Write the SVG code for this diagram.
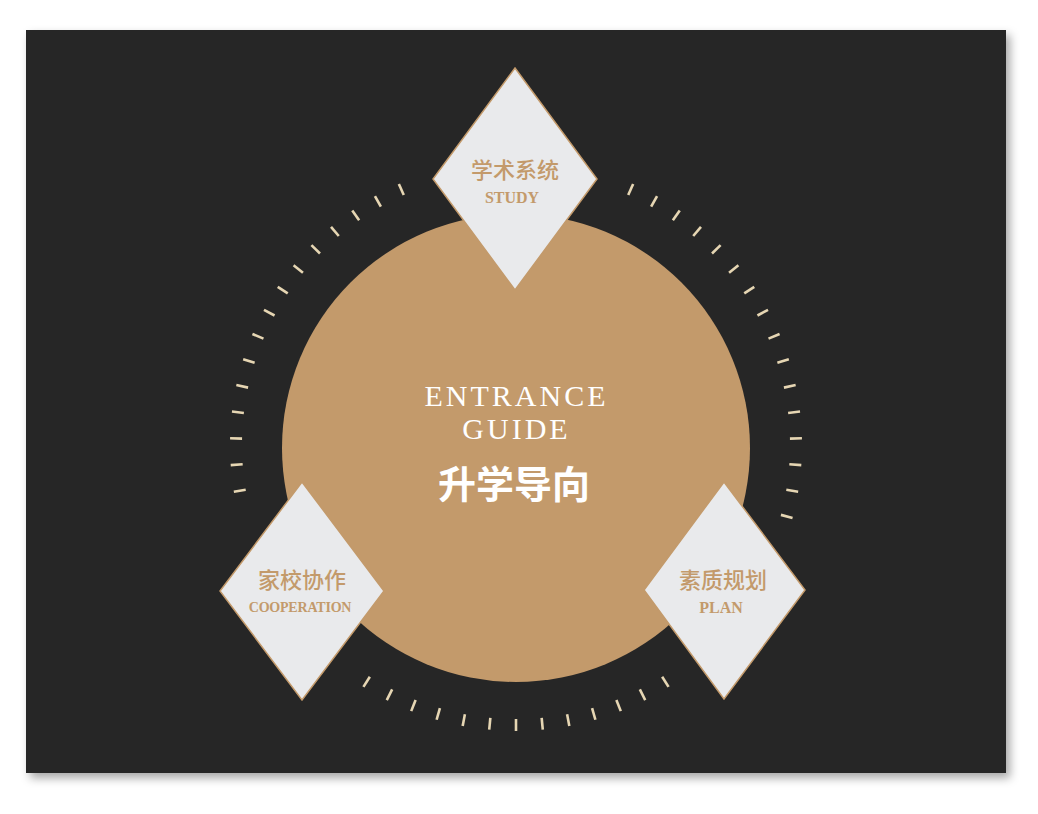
<svg xmlns="http://www.w3.org/2000/svg" xmlns:xlink="http://www.w3.org/1999/xlink" width="1038" height="814" viewBox="0 0 1038 814">
  <defs>
    <filter id="shadow" x="-5%" y="-5%" width="112%" height="115%">
      <feDropShadow dx="4" dy="5" stdDeviation="5" flood-color="#000" flood-opacity="0.35"/>
    </filter>
    <line id="tick" x1="516" y1="171" x2="516" y2="159" stroke="#E6D6B3" stroke-width="2.6"/>
  </defs>
  <style>
    .dia { fill: #E9EAEC; stroke: #C39A6B; stroke-width: 1.5; }
    .cn { font-family: "Noto Sans CJK SC", sans-serif; font-weight: 500; font-size: 22px; fill: #C39A6B; text-anchor: middle; }
    .en { font-family: "Liberation Serif", serif; font-weight: bold; fill: #C39A6B; text-anchor: middle; }
    .ct { font-family: "Liberation Serif", serif; font-size: 30px; fill: #FFFFFF; text-anchor: middle; letter-spacing: 3px; }
    .ccn { font-family: "Noto Sans CJK SC", sans-serif; font-weight: bold; font-size: 38px; fill: #FFFFFF; text-anchor: middle; }
  </style>
  <rect width="1038" height="814" fill="#FFFFFF"/>
  <rect x="26" y="30" width="980" height="743" fill="#262626" filter="url(#shadow)"/>

  <g id="ticks">
    <use xlink:href="#tick" transform="rotate(24.179 516 445)"/>
    <use xlink:href="#tick" transform="rotate(29.552 516 445)"/>
    <use xlink:href="#tick" transform="rotate(34.925 516 445)"/>
    <use xlink:href="#tick" transform="rotate(40.299 516 445)"/>
    <use xlink:href="#tick" transform="rotate(45.672 516 445)"/>
    <use xlink:href="#tick" transform="rotate(51.045 516 445)"/>
    <use xlink:href="#tick" transform="rotate(56.418 516 445)"/>
    <use xlink:href="#tick" transform="rotate(61.791 516 445)"/>
    <use xlink:href="#tick" transform="rotate(67.164 516 445)"/>
    <use xlink:href="#tick" transform="rotate(72.537 516 445)"/>
    <use xlink:href="#tick" transform="rotate(77.910 516 445)"/>
    <use xlink:href="#tick" transform="rotate(83.284 516 445)"/>
    <use xlink:href="#tick" transform="rotate(88.657 516 445)"/>
    <use xlink:href="#tick" transform="rotate(94.030 516 445)"/>
    <use xlink:href="#tick" transform="rotate(99.403 516 445)"/>
    <use xlink:href="#tick" transform="rotate(104.776 516 445)"/>
    <use xlink:href="#tick" transform="rotate(147.761 516 445)"/>
    <use xlink:href="#tick" transform="rotate(153.134 516 445)"/>
    <use xlink:href="#tick" transform="rotate(158.507 516 445)"/>
    <use xlink:href="#tick" transform="rotate(163.881 516 445)"/>
    <use xlink:href="#tick" transform="rotate(169.254 516 445)"/>
    <use xlink:href="#tick" transform="rotate(174.627 516 445)"/>
    <use xlink:href="#tick" transform="rotate(180 516 445)"/>
    <use xlink:href="#tick" transform="rotate(185.373 516 445)"/>
    <use xlink:href="#tick" transform="rotate(190.746 516 445)"/>
    <use xlink:href="#tick" transform="rotate(196.119 516 445)"/>
    <use xlink:href="#tick" transform="rotate(201.493 516 445)"/>
    <use xlink:href="#tick" transform="rotate(206.866 516 445)"/>
    <use xlink:href="#tick" transform="rotate(212.239 516 445)"/>
    <use xlink:href="#tick" transform="rotate(260.597 516 445)"/>
    <use xlink:href="#tick" transform="rotate(265.970 516 445)"/>
    <use xlink:href="#tick" transform="rotate(271.343 516 445)"/>
    <use xlink:href="#tick" transform="rotate(276.716 516 445)"/>
    <use xlink:href="#tick" transform="rotate(282.090 516 445)"/>
    <use xlink:href="#tick" transform="rotate(287.463 516 445)"/>
    <use xlink:href="#tick" transform="rotate(292.836 516 445)"/>
    <use xlink:href="#tick" transform="rotate(298.209 516 445)"/>
    <use xlink:href="#tick" transform="rotate(303.582 516 445)"/>
    <use xlink:href="#tick" transform="rotate(308.955 516 445)"/>
    <use xlink:href="#tick" transform="rotate(314.328 516 445)"/>
    <use xlink:href="#tick" transform="rotate(319.701 516 445)"/>
    <use xlink:href="#tick" transform="rotate(325.075 516 445)"/>
    <use xlink:href="#tick" transform="rotate(330.448 516 445)"/>
    <use xlink:href="#tick" transform="rotate(335.821 516 445)"/>
  </g>

  <g id="center">
    <circle cx="516" cy="448" r="234" fill="#C39A6B"/>
    <text class="ct" x="516.5" y="405.5">ENTRANCE</text>
    <text class="ct" x="516.5" y="439">GUIDE</text>
    <text class="ccn" x="514" y="498">升学导向</text>
  </g>

  <g id="study">
    <polygon class="dia" points="515,68 597,179 515,290 433,179"/>
    <text class="cn" x="515" y="178">学术系统</text>
    <text class="en" x="512" y="203" font-size="16">STUDY</text>
  </g>

  <g id="cooperation">
    <polygon class="dia" points="302,482 384,591 302,700 220,591"/>
    <text class="cn" x="302" y="588">家校协作</text>
    <text class="en" x="300" y="612" font-size="14" letter-spacing="-0.2">COOPERATION</text>
  </g>

  <g id="plan">
    <polygon class="dia" points="724,482 805,590 724,699 644,590"/>
    <text class="cn" x="723" y="588">素质规划</text>
    <text class="en" x="721" y="613" font-size="16">PLAN</text>
  </g>
</svg>
